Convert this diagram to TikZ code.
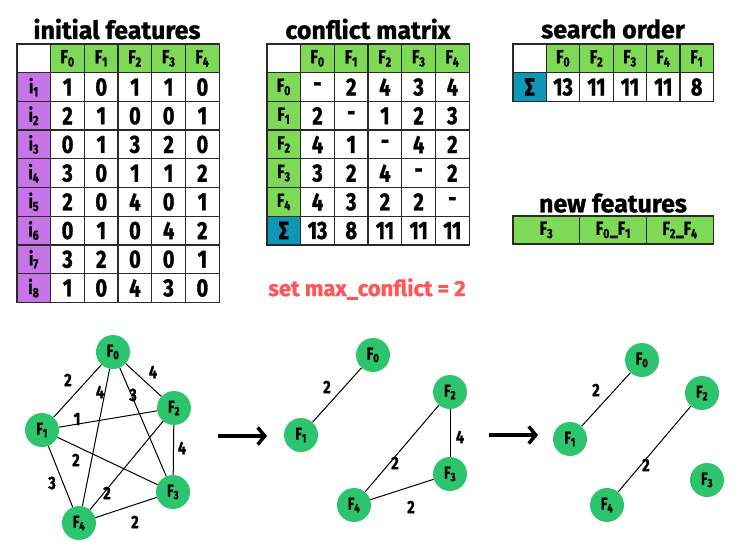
\documentclass[tikz,border=0pt]{standalone}
\usepackage{fontspec}
\setmainfont{Fira Sans}[FakeStretch=0.8, BoldFeatures={FakeBold=1.2}]
\newfontfamily\widefont{Fira Sans}[BoldFeatures={FakeBold=1}]
\usetikzlibrary{arrows.meta}
\definecolor{hgreen}{HTML}{7ED957}
\definecolor{purp}{HTML}{C774E8}
\definecolor{teal}{HTML}{0E97B6}
\definecolor{ngreen}{HTML}{2CC46C}
\definecolor{redt}{HTML}{FF5757}
\definecolor{lineg}{HTML}{2A2A2A}
\newcommand\numfont{\fontsize{25}{25}\selectfont\bfseries}
\newcommand\hdrfont{\fontsize{19}{19}\selectfont\bfseries}
\newcommand\titfont{\widefont\fontsize{25}{25}\selectfont\bfseries}
\newcommand\gfont{\fontsize{17}{17}\selectfont\bfseries}
\newcommand\lblfont{\fontsize{18}{18}\selectfont\bfseries}
\newcommand\Fs[1]{F\textsubscript{#1}}
\tikzset{
  cell/.style={draw=lineg, line width=1.3pt, minimum width=33.7pt, minimum height=28.7pt, inner sep=0pt, fill=white},
  titlebox/.style={font=\titfont, inner sep=0pt},
  gnode/.style={circle, fill=ngreen, minimum size=34pt, inner sep=0pt, font=\gfont},
  gedge/.style={line width=1pt, black},
  elbl/.style={font=\lblfont, inner sep=0pt},
  bigarrow/.style={line width=3.5pt, -{Straight Barb[length=7pt,width=17pt]}}
}
\begin{document}
\begin{tikzpicture}[x=1pt,y=-1pt]
\useasboundingbox (0,0) rectangle (750,555);
\def\W{33.7}\def\H{28.7}
% ---------- initial features
\node[titlebox] (t1) at (117,29) {initial features};
\node[cell] (a-00) at ({17+0.5*\W},{44+0.5*\H}) {};
\foreach \c in {0,...,4}{
  \pgfmathsetmacro\xx{17+(\c+1.5)*\W}
  \node[cell,fill=hgreen,font=\hdrfont] (a-h\c) at (\xx,{44+0.5*\H}) {\Fs{\c}};
}
\foreach \row [count=\r] in {{1,0,1,1,0},{2,1,0,0,1},{0,1,3,2,0},{3,0,1,1,2},{2,0,4,0,1},{0,1,0,4,2},{3,2,0,0,1},{1,0,4,3,0}}{
  \pgfmathsetmacro\yy{44+(\r+0.5)*\H}
  \node[cell,fill=purp,font=\hdrfont] (a-r\r) at ({17+0.5*\W},\yy) {i\textsubscript{\r}};
  \foreach \v [count=\c] in \row {
    \pgfmathsetmacro\xx{17+(\c+0.5)*\W}
    \node[cell,font=\numfont] (a-\r-\c) at (\xx,\yy) {\v};
  }
}
% ---------- conflict matrix
\node[titlebox] (t2) at (368,29) {conflict matrix};
\node[cell] (b-00) at ({267+0.5*\W},{44+0.5*\H}) {};
\foreach \c in {0,...,4}{
  \pgfmathsetmacro\xx{267+(\c+1.5)*\W}
  \node[cell,fill=hgreen,font=\hdrfont] (b-h\c) at (\xx,{44+0.5*\H}) {\Fs{\c}};
}
\foreach \row [count=\r from 0] in {{-,2,4,3,4},{2,-,1,2,3},{4,1,-,4,2},{3,2,4,-,2},{4,3,2,2,-}}{
  \pgfmathsetmacro\yy{44+(\r+1.5)*\H}
  \node[cell,fill=hgreen,font=\hdrfont] (b-r\r) at ({267+0.5*\W},\yy) {\Fs{\r}};
  \foreach \v [count=\c] in \row {
    \pgfmathsetmacro\xx{267+(\c+0.5)*\W}
    \node[cell,font=\numfont] (b-\r-\c) at (\xx,\yy) {\v};
  }
}
\node[cell,fill=teal,font=\numfont] (b-s) at ({267+0.5*\W},{44+6.5*\H}) {Σ};
\foreach \v [count=\c] in {13,8,11,11,11}{
  \pgfmathsetmacro\xx{267+(\c+0.5)*\W}
  \node[cell,font=\numfont] (b-s\c) at (\xx,{44+6.5*\H}) {\v};
}
% ---------- search order
\node[titlebox] (t3) at (613,29) {search order};
\node[cell,minimum width=33.4pt] (c-00) at ({513+0.5*33.4},{44+0.5*\H}) {};
\foreach \f [count=\c] in {0,2,3,4,1}{
  \pgfmathsetmacro\xx{513+(\c+0.5)*33.4}
  \node[cell,minimum width=33.4pt,fill=hgreen,font=\hdrfont] (c-h\c) at (\xx,{44+0.5*\H}) {\Fs{\f}};
}
\node[cell,minimum width=33.4pt,fill=teal,font=\numfont] (c-s) at ({513+0.5*33.4},{44+1.5*\H}) {Σ};
\foreach \v [count=\c] in {13,11,11,11,8}{
  \pgfmathsetmacro\xx{513+(\c+0.5)*33.4}
  \node[cell,minimum width=33.4pt,font=\numfont] (c-s\c) at (\xx,{44+1.5*\H}) {\v};
}
% ---------- new features
\node[titlebox] (t4) at (613,203) {new features};
\node[cell,minimum width=66.8pt,minimum height=28pt,fill=hgreen,font=\hdrfont] (d1) at ({513+33.4},230) {\Fs{3}};
\node[cell,minimum width=66.8pt,minimum height=28pt,fill=hgreen,font=\hdrfont] (d2) at ({513+100.2},230) {\Fs{0}\_\Fs{1}};
\node[cell,minimum width=66.8pt,minimum height=28pt,fill=hgreen,font=\hdrfont] (d3) at ({513+167},230) {\Fs{2}\_\Fs{4}};
% ---------- max conflict
\node[font=\widefont\fontsize{22}{22}\selectfont\bfseries, text=redt, inner sep=0pt] (mc) at (367,289) {set max\_conflict = 2};
% ---------- graph 1
\node[gnode] (g1F0) at (113,352) {\Fs{0}};
\node[gnode] (g1F1) at (42,430) {\Fs{1}};
\node[gnode] (g1F2) at (174,408) {\Fs{2}};
\node[gnode] (g1F3) at (173,492) {\Fs{3}};
\node[gnode] (g1F4) at (79,523) {\Fs{4}};
\draw[gedge] (g1F0) -- (g1F1);
\draw[gedge] (g1F0) -- (g1F2);
\draw[gedge] (g1F0) -- (g1F3);
\draw[gedge] (g1F0) -- (g1F4);
\draw[gedge] (g1F1) -- (g1F2);
\draw[gedge] (g1F1) -- (g1F3);
\draw[gedge] (g1F1) -- (g1F4);
\draw[gedge] (g1F2) -- (g1F3);
\draw[gedge] (g1F2) -- (g1F4);
\draw[gedge] (g1F3) -- (g1F4);
\node[elbl] (l1a) at (68,380) {2};
\node[elbl] (l1b) at (100,392) {4};
\node[elbl] (l1c) at (133,395) {3};
\node[elbl] (l1d) at (153,372) {4};
\node[elbl] (l1e) at (77,419) {1};
\node[elbl] (l1f) at (76,460) {2};
\node[elbl] (l1g) at (182,448) {4};
\node[elbl] (l1h) at (52,483) {3};
\node[elbl] (l1i) at (107,493) {2};
\node[elbl] (l1j) at (135,522) {2};
% arrow 1
\coordinate (ar1s) at (218,436);
\coordinate (ar1e) at (267,436);
\draw[bigarrow] (ar1s) -- (ar1e);
% ---------- graph 2
\node[gnode] (g2F0) at (373,355) {\Fs{0}};
\node[gnode] (g2F1) at (301,435) {\Fs{1}};
\node[gnode] (g2F2) at (450,392) {\Fs{2}};
\node[gnode] (g2F3) at (450,474) {\Fs{3}};
\node[gnode] (g2F4) at (354,505) {\Fs{4}};
\draw[gedge] (g2F0) -- (g2F1);
\draw[gedge] (g2F2) -- (g2F3);
\draw[gedge] (g2F2) -- (g2F4);
\draw[gedge] (g2F3) -- (g2F4);
\node[elbl] (l2a) at (327,387) {2};
\node[elbl] (l2b) at (460,437) {4};
\node[elbl] (l2c) at (395,463) {2};
\node[elbl] (l2d) at (411,507) {2};
% arrow 2
\coordinate (ar2s) at (489,435);
\coordinate (ar2e) at (538,435);
\draw[bigarrow] (ar2s) -- (ar2e);
% ---------- graph 3
\node[gnode] (g3F0) at (642,360) {\Fs{0}};
\node[gnode] (g3F1) at (570,439) {\Fs{1}};
\node[gnode] (g3F2) at (702,393) {\Fs{2}};
\node[gnode] (g3F3) at (707,480) {\Fs{3}};
\node[gnode] (g3F4) at (607,505) {\Fs{4}};
\draw[gedge] (g3F0) -- (g3F1);
\draw[gedge] (g3F2) -- (g3F4);
\node[elbl] (l3a) at (596,390) {2};
\node[elbl] (l3b) at (646,465) {2};
\end{tikzpicture}
\end{document}
